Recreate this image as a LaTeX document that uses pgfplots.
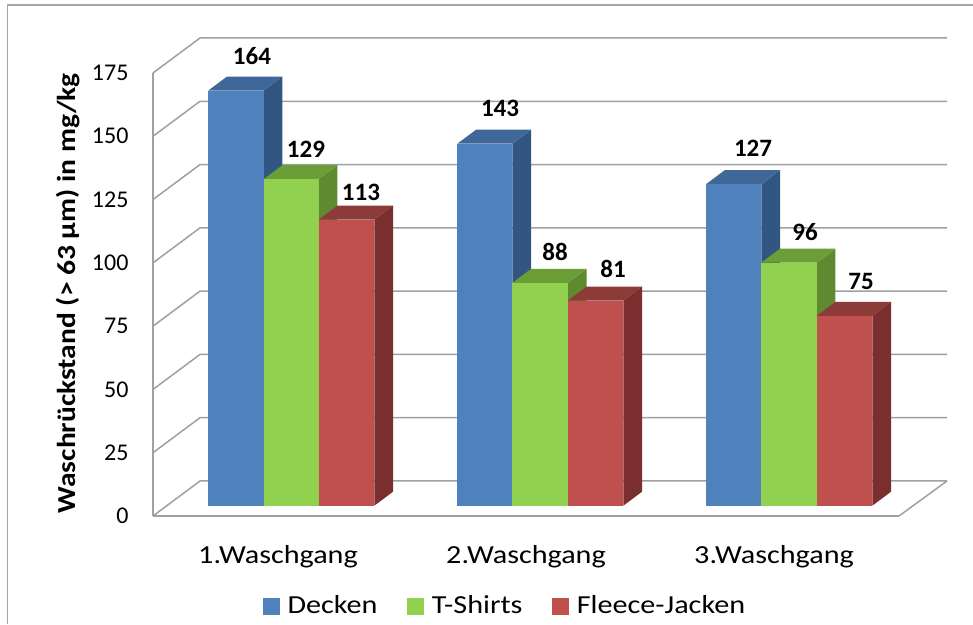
\documentclass[border=0pt]{standalone}
\usepackage{pgfplots}
\pgfplotsset{compat=1.18}
\usepackage{fontspec}
\setmainfont{Carlito}
\newfontfamily\widefont[FakeStretch=1.16]{Carlito}
\newfontfamily\ylabfont[FakeStretch=1.135]{Carlito}
\definecolor{gridc}{HTML}{A0A0A0}
\definecolor{framec}{HTML}{A6A6A6}
\definecolor{bluef}{HTML}{4F81BD}\definecolor{bluet}{HTML}{3F6797}\definecolor{blues}{HTML}{325682}
\definecolor{greenf}{HTML}{92D050}\definecolor{greent}{HTML}{6C9E37}\definecolor{greens}{HTML}{5F8A30}
\definecolor{redf}{HTML}{C0504D}\definecolor{redt}{HTML}{8D3B39}\definecolor{reds}{HTML}{7A2F2E}
% x left edge, value, colour prefix, right edge
\newcommand{\threedbar}[4]{%
  \addplot[fill=#3s,draw=none,forget plot,yshift=10.3pt] coordinates {(#4,0)(#4+18.7,5.53)(#4+18.7,#2+5.53)(#4,#2)} -- cycle;
  \addplot[fill=#3t,draw=none,forget plot,yshift=10.3pt] coordinates {(#1,#2)(#1+18.7,#2+5.53)(#4+18.7,#2+5.53)(#4,#2)} -- cycle;
  \addplot[fill=#3f,draw=none,forget plot,yshift=10.3pt] coordinates {(#1,0)(#1,#2)(#4,#2)(#4,0)} -- cycle;
}
\newcommand{\wall}[1]{%
  \addplot[gridc,line width=1.5pt,forget plot] coordinates {(153,#1)(200,#1+13.83)(947,#1+13.83)};
}
\newcommand{\lab}[3]{\node[font=\fontsize{25}{28}\selectfont\bfseries,text=black,inner sep=0pt] at (axis cs:#1,{(516-#2)/2.5314}) {#3};}
\begin{document}
\begin{tikzpicture}[x=1pt,y=1pt]
\path[use as bounding box] (0,0) rectangle (973,624);
\fill[white] (0,0) rectangle (973,624);
\draw[framec,line width=1.5pt] (7.5,0) -- (7.5,619) -- (973,619);
\begin{axis}[
  at={(153pt,108pt)},anchor=south west,
  scale only axis,width=746pt,height=443pt,
  xmin=153,xmax=899,ymin=0,ymax=175,
  clip=false,
  axis x line*=bottom,axis y line*=left,
  axis line style={gridc,line width=1.5pt,-},
  xtick={278,526,774},
  xticklabels={1.Waschgang,2.Waschgang,3.Waschgang},
  ytick={0,25,...,175},
  major tick length=0pt,
  /pgf/number format/assume math mode=true,
  tick label style={font=\fontsize{24}{28}\selectfont,text=black},
  yticklabel style={xshift=-21pt},
  xticklabel style={yshift=-26pt,font=\widefont\fontsize{26}{30}\selectfont},
  ylabel={Waschrückstand (> 63 µm) in mg/kg},
  ylabel style={font=\ylabfont\fontsize{26}{30}\selectfont\bfseries,text=black,at={(axis description cs:-0.114,0.503)},anchor=center,rotate=0},
  legend style={draw=none,fill=none,at={(axis description cs:0.472,-0.2025)},anchor=center,
    legend columns=-1,font=\widefont\fontsize{26}{30}\selectfont,
    /tikz/every even column/.append style={column sep=28pt},
    /tikz/every odd column/.append style={column sep=6pt},
    inner sep=0pt,outer sep=0pt},
  legend image code/.code={\fill[#1] (0pt,-8pt) rectangle (16pt,8pt);},
  legend cell align=left,
]
\addlegendimage{bluef}\addlegendentry{Decken}
\addlegendimage{greenf}\addlegendentry{T-Shirts}
\addlegendimage{redf}\addlegendentry{Fleece-Jacken}
\wall{0}\wall{25}\wall{50}\wall{75}\wall{100}\wall{125}\wall{150}\wall{175}
\addplot[gridc,line width=1.5pt,forget plot] coordinates {(899,0)(947,13.83)};
\threedbar{208.3}{164}{blue}{263.7}
\threedbar{263.7}{129}{green}{318.7}
\threedbar{318.7}{113}{red}{374.3}
\threedbar{457.3}{143}{blue}{512.3}
\threedbar{512.3}{88}{green}{567.8}
\threedbar{567.8}{81}{red}{623.3}
\threedbar{706}{127}{blue}{761.3}
\threedbar{761.3}{96}{green}{816.7}
\threedbar{816.7}{75}{red}{872.3}
\lab{252}{56}{164}
\lab{306}{149}{129}
\lab{361}{192}{113}
\lab{500}{108}{143}
\lab{555}{252}{88}
\lab{613}{269}{81}
\lab{753}{148}{127}
\lab{805}{232}{96}
\lab{861}{281}{75}
\end{axis}
\end{tikzpicture}
\end{document}
